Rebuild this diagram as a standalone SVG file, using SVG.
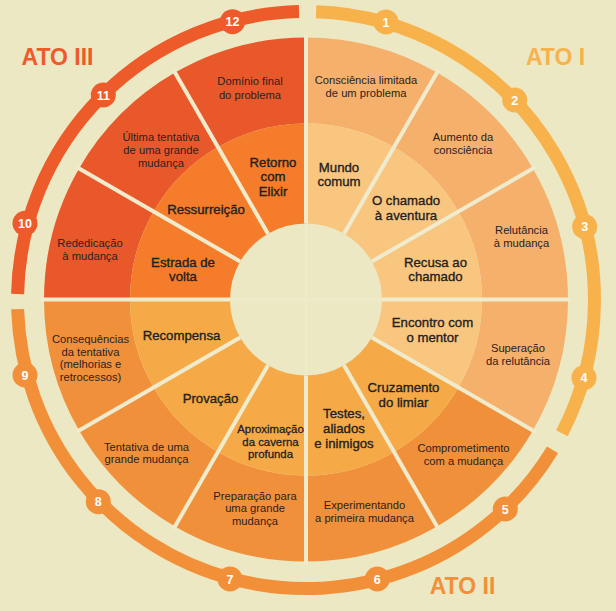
<svg xmlns="http://www.w3.org/2000/svg" width="616" height="611" viewBox="0 0 616 611">
  <style>
    .o1 { fill: #F5B06C; } .i1 { fill: #F9C680; }
    .o2 { fill: #F1903A; } .i2 { fill: #F6AA47; }
    .o3 { fill: #E9582A; } .i3 { fill: #F47C2B; }
    text { font-family: "Liberation Sans", Arial, sans-serif; text-anchor: middle; }
    .lbl { font-size: 11.2px; fill: #2A2220; }
    .stg { font-size: 13.2px; fill: #231F20; stroke: #231F20; stroke-width: 0.35; }
    .stg-s { font-size: 11.4px; fill: #231F20; stroke: #231F20; stroke-width: 0.3; }
    .act { font-size: 23px; font-weight: bold; }
    .num { font-size: 12.5px; font-weight: bold; fill: #FFFFFF; }
    .ring { fill: none; stroke-width: 13; }
    .div { stroke: #EFEBCC; stroke-width: 4; }
  </style>

  <rect width="616" height="611" fill="#ECE8C3"/>

  <!-- stage 1 -->
  <g id="stage-1">
    <path class="o1" d="M306,123.5 L306,37.5 A262,262 0 0 1 437,72.6 L394,147.1 A176,176 0 0 0 306,123.5Z"/>
    <path class="i1" d="M306,223.5 L306,123.5 A176,176 0 0 1 394,147.1 L344,233.7 A76,76 0 0 0 306,223.5Z"/>
    <text class="lbl" x="366" y="84">Consciência limitada</text>
    <text class="lbl" x="366" y="97">de um problema</text>
    <text class="stg" x="339" y="171.5">Mundo</text>
    <text class="stg" x="339" y="186">comum</text>
  </g>
  <!-- stage 2 -->
  <g id="stage-2">
    <path class="o1" d="M394,147.1 L437,72.6 A262,262 0 0 1 532.9,168.5 L458.4,211.5 A176,176 0 0 0 394,147.1Z"/>
    <path class="i1" d="M344,233.7 L394,147.1 A176,176 0 0 1 458.4,211.5 L371.8,261.5 A76,76 0 0 0 344,233.7Z"/>
    <text class="lbl" x="463" y="141">Aumento da</text>
    <text class="lbl" x="463" y="154">consciência</text>
    <text class="stg" x="406" y="205">O chamado</text>
    <text class="stg" x="406" y="219.5">à aventura</text>
  </g>
  <!-- stage 3 -->
  <g id="stage-3">
    <path class="o1" d="M458.4,211.5 L532.9,168.5 A262,262 0 0 1 568,299.5 L482,299.5 A176,176 0 0 0 458.4,211.5Z"/>
    <path class="i1" d="M371.8,261.5 L458.4,211.5 A176,176 0 0 1 482,299.5 L382,299.5 A76,76 0 0 0 371.8,261.5Z"/>
    <text class="lbl" x="521.5" y="234">Relutância</text>
    <text class="lbl" x="521.5" y="247">à mudança</text>
    <text class="stg" x="435.5" y="266.5">Recusa ao</text>
    <text class="stg" x="435.5" y="281">chamado</text>
  </g>
  <!-- stage 4 -->
  <g id="stage-4">
    <path class="o1" d="M482,299.5 L568,299.5 A262,262 0 0 1 532.9,430.5 L458.4,387.5 A176,176 0 0 0 482,299.5Z"/>
    <path class="i1" d="M382,299.5 L482,299.5 A176,176 0 0 1 458.4,387.5 L371.8,337.5 A76,76 0 0 0 382,299.5Z"/>
    <text class="lbl" x="518" y="352">Superação</text>
    <text class="lbl" x="518" y="364.5">da relutância</text>
    <text class="stg" x="432.5" y="326.5">Encontro com</text>
    <text class="stg" x="432.5" y="341.5">o mentor</text>
  </g>
  <!-- stage 5 -->
  <g id="stage-5">
    <path class="o2" d="M458.4,387.5 L532.9,430.5 A262,262 0 0 1 437,526.4 L394,451.9 A176,176 0 0 0 458.4,387.5Z"/>
    <path class="i2" d="M371.8,337.5 L458.4,387.5 A176,176 0 0 1 394,451.9 L344,365.3 A76,76 0 0 0 371.8,337.5Z"/>
    <text class="lbl" x="463.5" y="452">Comprometimento</text>
    <text class="lbl" x="463.5" y="464.5">com a mudança</text>
    <text class="stg" x="403.5" y="391.5">Cruzamento</text>
    <text class="stg" x="403.5" y="406.5">do limiar</text>
  </g>
  <!-- stage 6 -->
  <g id="stage-6">
    <path class="o2" d="M394,451.9 L437,526.4 A262,262 0 0 1 306,561.5 L306,475.5 A176,176 0 0 0 394,451.9Z"/>
    <path class="i2" d="M344,365.3 L394,451.9 A176,176 0 0 1 306,475.5 L306,375.5 A76,76 0 0 0 344,365.3Z"/>
    <text class="lbl" x="364.5" y="509">Experimentando</text>
    <text class="lbl" x="364.5" y="521.5">a primeira mudança</text>
    <text class="stg" x="344" y="418">Testes,</text>
    <text class="stg" x="344" y="433">aliados</text>
    <text class="stg" x="344" y="447.5">e inimigos</text>
  </g>
  <!-- stage 7 -->
  <g id="stage-7">
    <path class="o2" d="M306,475.5 L306,561.5 A262,262 0 0 1 175,526.4 L218,451.9 A176,176 0 0 0 306,475.5Z"/>
    <path class="i2" d="M306,375.5 L306,475.5 A176,176 0 0 1 218,451.9 L268,365.3 A76,76 0 0 0 306,375.5Z"/>
    <text class="lbl" x="255" y="499.5">Preparação para</text>
    <text class="lbl" x="255" y="512">uma grande</text>
    <text class="lbl" x="255" y="524.5">mudança</text>
    <text class="stg-s" x="270.5" y="433">Aproximação</text>
    <text class="stg-s" x="270.5" y="445.5">da caverna</text>
    <text class="stg-s" x="270.5" y="458">profunda</text>
  </g>
  <!-- stage 8 -->
  <g id="stage-8">
    <path class="o2" d="M218,451.9 L175,526.4 A262,262 0 0 1 79.1,430.5 L153.6,387.5 A176,176 0 0 0 218,451.9Z"/>
    <path class="i2" d="M268,365.3 L218,451.9 A176,176 0 0 1 153.6,387.5 L240.2,337.5 A76,76 0 0 0 268,365.3Z"/>
    <text class="lbl" x="146.5" y="450.5">Tentativa de uma</text>
    <text class="lbl" x="146.5" y="463">grande mudança</text>
    <text class="stg" x="210.5" y="402.5">Provação</text>
  </g>
  <!-- stage 9 -->
  <g id="stage-9">
    <path class="o2" d="M153.6,387.5 L79.1,430.5 A262,262 0 0 1 44,299.5 L130,299.5 A176,176 0 0 0 153.6,387.5Z"/>
    <path class="i2" d="M240.2,337.5 L153.6,387.5 A176,176 0 0 1 130,299.5 L230,299.5 A76,76 0 0 0 240.2,337.5Z"/>
    <text class="lbl" x="90.5" y="343">Consequências</text>
    <text class="lbl" x="90.5" y="355.5">da tentativa</text>
    <text class="lbl" x="90.5" y="368">(melhorias e</text>
    <text class="lbl" x="90.5" y="380.5">retrocessos)</text>
    <text class="stg" x="181.5" y="340">Recompensa</text>
  </g>
  <!-- stage 10 -->
  <g id="stage-10">
    <path class="o3" d="M130,299.5 L44,299.5 A262,262 0 0 1 79.1,168.5 L153.6,211.5 A176,176 0 0 0 130,299.5Z"/>
    <path class="i3" d="M230,299.5 L130,299.5 A176,176 0 0 1 153.6,211.5 L240.2,261.5 A76,76 0 0 0 230,299.5Z"/>
    <text class="lbl" x="90" y="246.5">Rededicação</text>
    <text class="lbl" x="90" y="259.5">à mudança</text>
    <text class="stg" x="183" y="266.5">Estrada de</text>
    <text class="stg" x="183" y="281">volta</text>
  </g>
  <!-- stage 11 -->
  <g id="stage-11">
    <path class="o3" d="M153.6,211.5 L79.1,168.5 A262,262 0 0 1 175,72.6 L218,147.1 A176,176 0 0 0 153.6,211.5Z"/>
    <path class="i3" d="M240.2,261.5 L153.6,211.5 A176,176 0 0 1 218,147.1 L268,233.7 A76,76 0 0 0 240.2,261.5Z"/>
    <text class="lbl" x="161" y="141">Última tentativa</text>
    <text class="lbl" x="161" y="154">de uma grande</text>
    <text class="lbl" x="161" y="167">mudança</text>
    <text class="stg" x="206" y="214">Ressurreição</text>
  </g>
  <!-- stage 12 -->
  <g id="stage-12">
    <path class="o3" d="M218,147.1 L175,72.6 A262,262 0 0 1 306,37.5 L306,123.5 A176,176 0 0 0 218,147.1Z"/>
    <path class="i3" d="M268,233.7 L218,147.1 A176,176 0 0 1 306,123.5 L306,223.5 A76,76 0 0 0 268,233.7Z"/>
    <text class="lbl" x="250" y="85">Domínio final</text>
    <text class="lbl" x="250" y="98.5">do problema</text>
    <text class="stg" x="273" y="166.5">Retorno</text>
    <text class="stg" x="273" y="181">com</text>
    <text class="stg" x="273" y="195.5">Elixir</text>
  </g>

  <!-- radial separators between stages, plus the faint cross in the hub -->
  <g id="dividers" class="div">
    <line x1="306" y1="223.5" x2="306" y2="34.5"/>
    <line x1="344" y1="233.7" x2="438.5" y2="70"/>
    <line x1="371.8" y1="261.5" x2="535.5" y2="167"/>
    <line x1="382" y1="299.5" x2="571" y2="299.5"/>
    <line x1="371.8" y1="337.5" x2="535.5" y2="432"/>
    <line x1="344" y1="365.3" x2="438.5" y2="529"/>
    <line x1="306" y1="375.5" x2="306" y2="564.5"/>
    <line x1="268" y1="365.3" x2="173.5" y2="529"/>
    <line x1="240.2" y1="337.5" x2="76.5" y2="432"/>
    <line x1="230" y1="299.5" x2="41" y2="299.5"/>
    <line x1="240.2" y1="261.5" x2="76.5" y2="167"/>
    <line x1="268" y1="233.7" x2="173.5" y2="70"/>
    <g stroke="#EEEBCA" stroke-width="3">
      <line x1="306" y1="224" x2="306" y2="375"/>
      <line x1="231" y1="299.5" x2="381" y2="299.5"/>
    </g>
  </g>

  <!-- act arcs with numbered step badges -->
  <g id="act-1">
    <path class="ring" stroke="#F8B24B" d="M316.1,11.7 A288.5,288.5 0 0 1 561.9,433.2"/>
    <text class="act" x="555.5" y="65" fill="#F8B24B">ATO I</text>
    <g fill="#F8B24B">
      <circle cx="386" cy="22" r="12.5"/>
      <circle cx="514.7" cy="100" r="12.5"/>
      <circle cx="584.7" cy="226.7" r="12.5"/>
      <circle cx="584" cy="377.7" r="12.5"/>
    </g>
    <text class="num" x="386" y="26.5">1</text>
    <text class="num" x="514.7" y="104.5">2</text>
    <text class="num" x="584.7" y="231.2">3</text>
    <text class="num" x="584" y="382.2">4</text>
  </g>
  <g id="act-2">
    <path class="ring" stroke="#F2903A" d="M552.5,449.9 A288.5,288.5 0 0 1 17.6,309.1"/>
    <text class="act" x="462.5" y="594.3" fill="#F2903A">ATO II</text>
    <g fill="#F2903A">
      <circle cx="505.3" cy="509" r="12.5"/>
      <circle cx="377.3" cy="579" r="12.5"/>
      <circle cx="230" cy="579" r="12.5"/>
      <circle cx="98.3" cy="501.7" r="12.5"/>
      <circle cx="25" cy="375" r="12.5"/>
    </g>
    <text class="num" x="505.3" y="513.5">5</text>
    <text class="num" x="377.3" y="583.5">6</text>
    <text class="num" x="230" y="583.5">7</text>
    <text class="num" x="98.3" y="506.2">8</text>
    <text class="num" x="25" y="379.5">9</text>
  </g>
  <g id="act-3">
    <path class="ring" stroke="#EE5B2B" d="M17.6,294 A288.5,288.5 0 0 1 299,11.6"/>
    <text class="act" x="57.5" y="65" fill="#EE5B2B">ATO III</text>
    <g fill="#EE5B2B">
      <circle cx="25" cy="223.3" r="12.5"/>
      <circle cx="103.3" cy="95" r="12.5"/>
      <circle cx="232.5" cy="21.7" r="12.5"/>
    </g>
    <text class="num" x="25" y="227.8">10</text>
    <text class="num" x="103.3" y="99.5">11</text>
    <text class="num" x="232.5" y="26.2">12</text>
  </g>
</svg>
